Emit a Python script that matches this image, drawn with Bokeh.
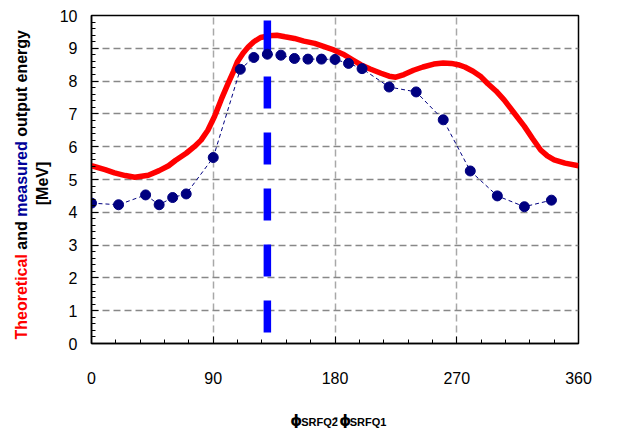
import numpy as np
from bokeh.plotting import figure
from bokeh.layouts import row, column
from bokeh.models import Range1d, FixedTicker
from bokeh.core.properties import value
from bokeh.embed import file_html
from bokeh.resources import INLINE

# ---- data ----
theory_phase = [0, 10, 17, 25, 32, 42, 50, 57, 62, 70, 76, 81, 86, 91, 96, 101, 105, 108,
                112, 116, 120, 125, 131, 137, 143, 150, 157, 165, 172, 179, 186, 193, 199,
                206, 214, 220, 225, 231, 238, 245, 253, 260, 266, 271, 276, 282, 288, 293,
                299, 305, 312, 320, 326, 332, 337, 342, 350, 360]
theory_energy = [5.42, 5.30, 5.20, 5.12, 5.07, 5.13, 5.27, 5.42, 5.58, 5.80, 6.00, 6.20, 6.50,
                 6.93, 7.45, 7.93, 8.30, 8.60, 8.85, 9.05, 9.20, 9.33, 9.38, 9.40, 9.35, 9.30,
                 9.22, 9.15, 9.05, 8.95, 8.82, 8.65, 8.50, 8.37, 8.24, 8.15, 8.12, 8.20, 8.33,
                 8.43, 8.52, 8.55, 8.54, 8.50, 8.43, 8.30, 8.13, 7.92, 7.70, 7.43, 7.05, 6.62,
                 6.25, 5.90, 5.72, 5.60, 5.50, 5.42]

meas_phase = [0, 20, 40, 50, 60, 70, 90, 110, 120, 130, 140, 150, 160, 170, 180, 190, 200,
              220, 240, 260, 280, 300, 320, 340]
meas_energy = [4.28, 4.23, 4.53, 4.23, 4.45, 4.56, 5.67, 8.36, 8.72, 8.82, 8.79, 8.69, 8.67,
               8.67, 8.66, 8.54, 8.38, 7.82, 7.67, 6.82, 5.26, 4.50, 4.17, 4.37]

marker_phase = [130, 130]
marker_energy = [9.85, 0.335]

x_ticks = [0, 90, 180, 270, 360]
x_minor = list(range(0, 361, 18))
y_ticks = list(range(0, 11))
y_minor = [round(i * 0.2, 1) for i in range(51)]

ylabel_parts = ["Theoretical", "and", "measured", "output energy"]
ylabel_colors = ["#ff0000", "black", "#000099", "black"]
ylabel_line2 = "[MeV]"
xlabel_parts = ["\u03d5", "SRFQ2", "-", "\u03d5", "SRFQ1"]

# ---- layout (canvas pixels) ----
W, H = 617, 428
YL_W = 56                 # width of the strip holding the y-axis title
L, R, T, B = 90, 578, 15, 343
XL_H = 28                 # height of the strip holding the x-axis title
FONT = "Liberation Sans"


def bare(fig):
    fig.xgrid.visible = False
    fig.ygrid.visible = False
    fig.outline_line_color = None
    fig.background_fill_color = "white"
    fig.border_fill_color = "white"
    return fig


# main chart
p = figure(width=W - YL_W, height=H - XL_H, x_range=Range1d(0, 360), y_range=Range1d(0, 10),
           output_backend="svg", toolbar_location=None,
           min_border_left=L - YL_W, min_border_right=W - R, min_border_top=T,
           min_border_bottom=H - XL_H - B)
p.background_fill_color = "white"
p.border_fill_color = "white"
p.outline_line_color = "black"
p.outline_line_width = 1.5

for ax, tk, mn in ((p.xaxis[0], x_ticks, x_minor), (p.yaxis[0], y_ticks, y_minor)):
    ax.ticker = FixedTicker(ticks=tk, minor_ticks=mn)
    ax.axis_line_color = "black"
    ax.axis_line_width = 1.5
    ax.major_tick_in = 7
    ax.major_tick_out = 0
    ax.minor_tick_in = 4
    ax.minor_tick_out = 0
    ax.major_tick_line_color = "black"
    ax.minor_tick_line_color = "black"
    ax.major_label_text_font = FONT
    ax.major_label_text_font_size = "16px"
    ax.major_label_text_color = "black"
    ax.axis_label = None
p.xaxis.major_label_standoff = 28
p.yaxis.major_label_standoff = 14

p.xgrid.ticker = FixedTicker(ticks=[90, 180, 270])
p.ygrid.ticker = FixedTicker(ticks=list(range(1, 10)))
p.xgrid.grid_line_color = "#a8a8a8"
p.xgrid.grid_line_width = 1.5
p.xgrid.grid_line_dash = "7 4"
p.ygrid.grid_line_color = "#888888"
p.ygrid.grid_line_width = 1.5
p.ygrid.grid_line_dash = "7 4"

p.line(theory_phase, theory_energy, line_color="#ff0000", line_width=5.5, line_join="round")
p.line(marker_phase, marker_energy, line_color="#0000ff", line_width=7.5,
       line_dash="32 24", line_cap="butt")
p.line(meas_phase, meas_energy, line_color="#000080", line_width=1, line_dash="4 3")
p.scatter(meas_phase, meas_energy, size=10, fill_color="#000080", line_color="#000080")

# y-axis title strip (coordinates = canvas px, y measured upward from the bottom)
yl = bare(figure(width=YL_W, height=H, x_range=Range1d(0, YL_W), y_range=Range1d(0, H),
                 output_backend="svg", toolbar_location=None, x_axis_type=None,
                 y_axis_type=None, min_border=0, min_border_left=0, min_border_right=0,
                 min_border_top=0, min_border_bottom=0))
y_start = H - 339
y_offsets = [0, 89.8, 122.7, 202.8]
yl.text(x=[21] * 4, y=[y_start + o for o in y_offsets], text=ylabel_parts,
        text_color=ylabel_colors, angle=np.pi / 2, text_align="left", text_baseline="middle",
        text_font=value(FONT), text_font_style="bold", text_font_size="16px")
yl.text(x=[42], y=[H - 183], text=[ylabel_line2], text_color="black", angle=np.pi / 2,
        text_align="center", text_baseline="middle", text_font=value(FONT),
        text_font_style="bold", text_font_size="16px")

# x-axis title strip
xl = bare(figure(width=W - YL_W, height=XL_H, x_range=Range1d(YL_W, W), y_range=Range1d(0, XL_H),
                 output_backend="svg", toolbar_location=None, x_axis_type=None,
                 y_axis_type=None, min_border=0, min_border_left=0, min_border_right=0,
                 min_border_top=0, min_border_bottom=0))
x_pos = [285, 297.5, 335, 341.5, 353.5]
y_base = [H - 420, H - 421, H - 417, H - 420, H - 421]
sizes = ["15px", "11px", "12px", "15px", "11px"]
fonts = ["DejaVu Sans", FONT, FONT, "DejaVu Sans", FONT]
for t, xx, yy, fs, ff in zip(xlabel_parts, x_pos, y_base, sizes, fonts):
    xl.text(x=[xx], y=[yy], text=[t], text_color="black", text_align="left",
            text_baseline="alphabetic", text_font=value(ff), text_font_style="bold",
            text_font_size=fs)

layout = row(yl, column(p, xl, spacing=0), spacing=0)
open("out.html", "w").write(file_html(layout, INLINE))
